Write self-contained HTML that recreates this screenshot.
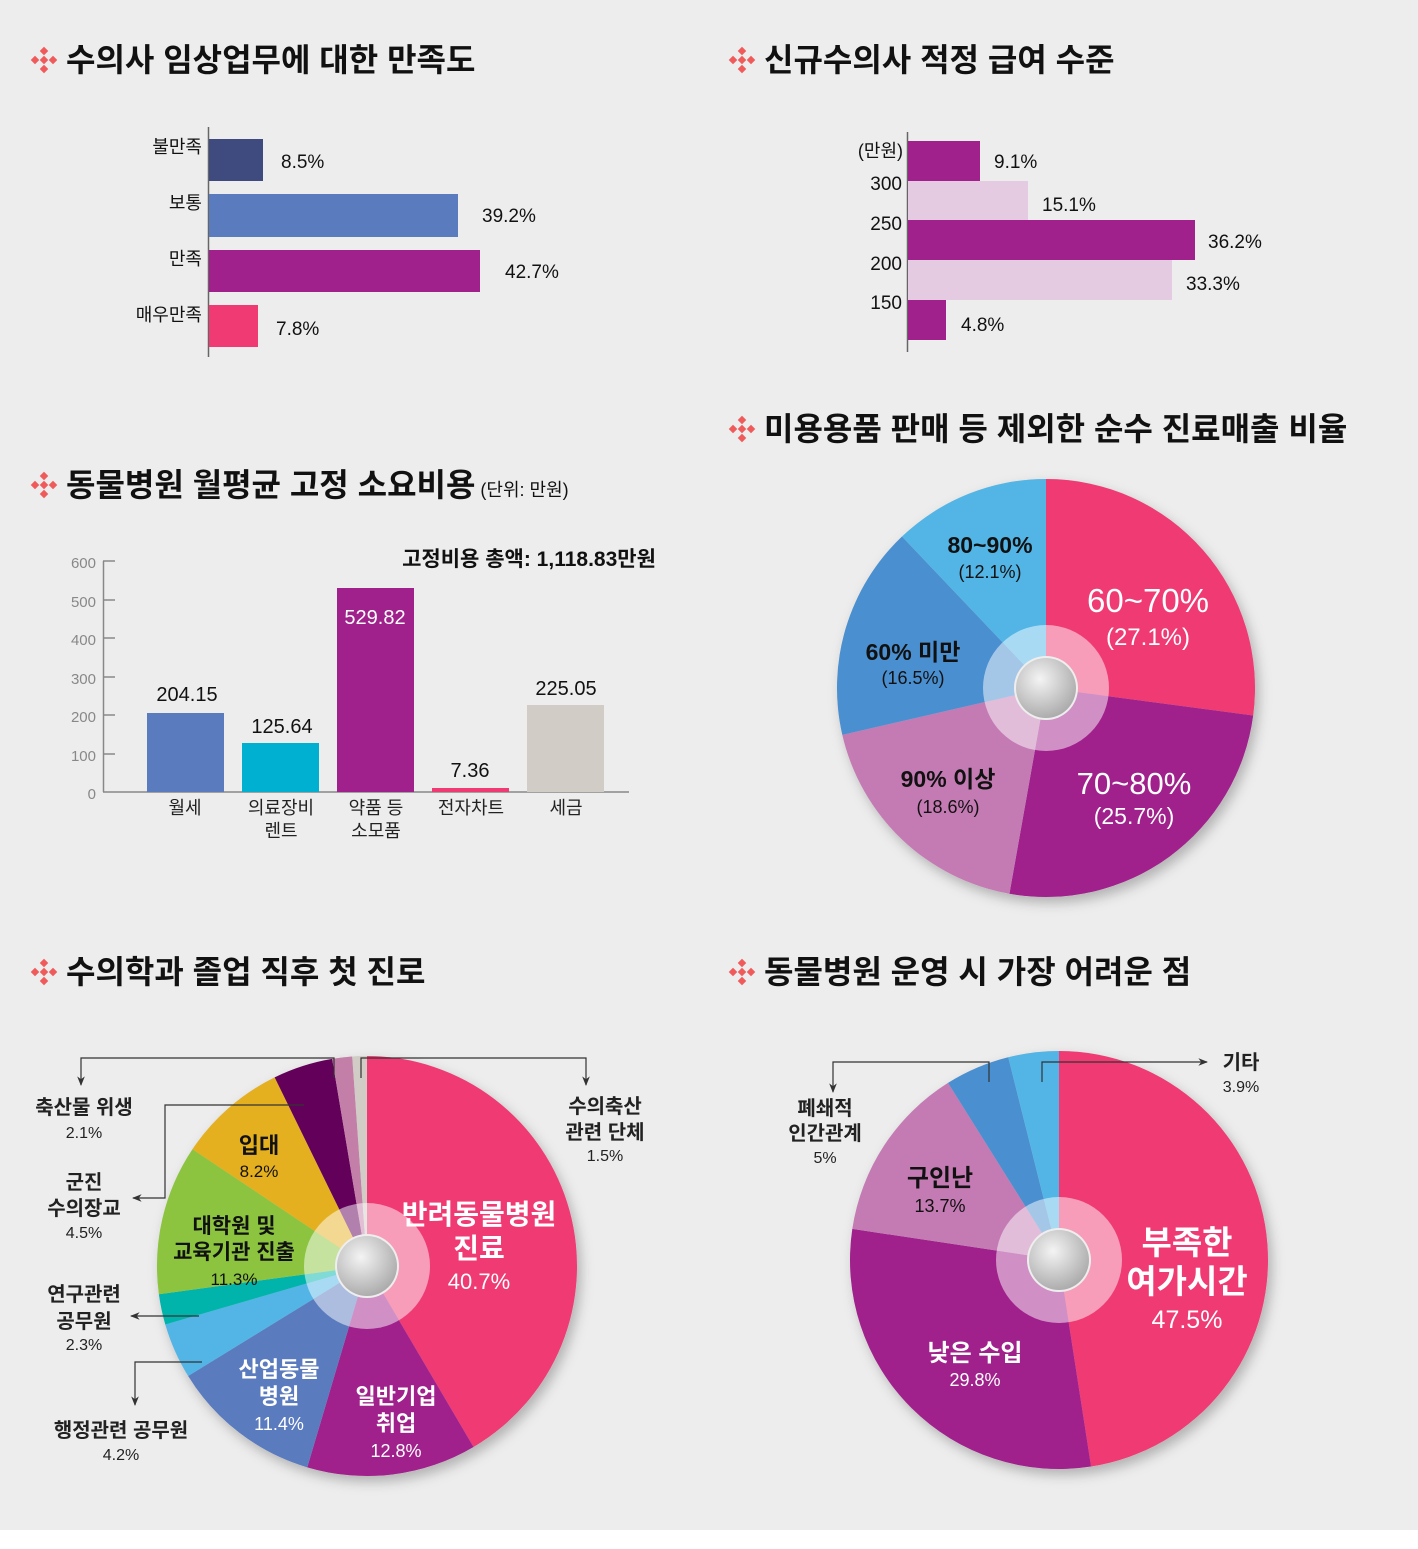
<!DOCTYPE html>
<html><head><meta charset="utf-8">
<style>
html,body{margin:0;padding:0;background:#ededed;}
svg{display:block;font-family:"Liberation Sans","Noto Sans CJK KR",sans-serif;}
.t{font-size:32px;font-weight:bold;fill:#111;}
.b{font-weight:bold;}
</style></head><body>
<svg id="s" width="1418" height="1549" viewBox="0 0 1418 1549" xmlns="http://www.w3.org/2000/svg">
<defs>
<radialGradient id="hole" cx="0.4" cy="0.35" r="0.7"><stop offset="0" stop-color="#f4f4f4"/><stop offset="1" stop-color="#a8a8a8"/></radialGradient>
<filter id="sh" x="-20%" y="-20%" width="140%" height="140%"><feDropShadow dx="4" dy="6" stdDeviation="6" flood-color="#000" flood-opacity="0.25"/></filter>
<g id="icon"><g fill="#f05a5a"><rect x="-3" y="-12" width="6" height="6" transform="rotate(45 0 -9)"/><rect x="-3" y="6" width="6" height="6" transform="rotate(45 0 9)"/><rect x="-12" y="-3" width="6" height="6" transform="rotate(45 -9 0)"/><rect x="6" y="-3" width="6" height="6" transform="rotate(45 9 0)"/><rect x="-3" y="-3" width="6" height="6" transform="rotate(45 0 0)"/></g></g>
<marker id="arr" viewBox="0 0 10 10" refX="9" refY="5" markerWidth="8" markerHeight="8" orient="auto-start-reverse"><path d="M0,1 L10,5 L0,9 L3,5z" fill="#333"/></marker>
</defs>
<rect width="1418" height="1549" fill="#ededed"/>
<rect y="1530" width="1418" height="19" fill="#fff"/>

<!-- titles -->
<use href="#icon" x="44" y="60"/><text class="t" x="66" y="71">수의사 임상업무에 대한 만족도</text>
<use href="#icon" x="742" y="60"/><text class="t" x="764" y="71">신규수의사 적정 급여 수준</text>
<use href="#icon" x="742" y="429"/><text class="t" x="764" y="440">미용용품 판매 등 제외한 순수 진료매출 비율</text>
<use href="#icon" x="44" y="485"/><text class="t" x="66" y="496">동물병원 월평균 고정 소요비용<tspan font-size="18" font-weight="normal"> (단위: 만원)</tspan></text>
<use href="#icon" x="44" y="972"/><text class="t" x="66" y="983">수의학과 졸업 직후 첫 진로</text>
<use href="#icon" x="742" y="972"/><text class="t" x="764" y="983">동물병원 운영 시 가장 어려운 점</text>

<!-- chart 1 -->
<g font-size="18" fill="#111">
<line x1="208.5" y1="127" x2="208.5" y2="357" stroke="#666" stroke-width="1.5"/>
<rect x="209" y="139" width="54" height="42" fill="#3f4a7e"/>
<rect x="209" y="194" width="249" height="43" fill="#5b7bbf"/>
<rect x="209" y="250" width="271" height="42" fill="#a0218c"/>
<rect x="209" y="305" width="49" height="42" fill="#ef3a73"/>
<g text-anchor="end"><text x="202" y="153">불만족</text><text x="202" y="209">보통</text><text x="202" y="265">만족</text><text x="202" y="321">매우만족</text></g>
<text x="281" y="168" font-size="19">8.5%</text><text x="482" y="222" font-size="19">39.2%</text><text x="505" y="278" font-size="19">42.7%</text><text x="276" y="335" font-size="19">7.8%</text>
</g>

<!-- chart 2 -->
<g font-size="19" fill="#111">
<line x1="907.5" y1="132" x2="907.5" y2="352" stroke="#666" stroke-width="1.5"/>
<rect x="908" y="141" width="72" height="40" fill="#a0218c"/>
<rect x="908" y="181" width="120" height="39" fill="#e5cbe1"/>
<rect x="908" y="220" width="287" height="40" fill="#a0218c"/>
<rect x="908" y="260" width="264" height="40" fill="#e5cbe1"/>
<rect x="908" y="300" width="38" height="40" fill="#a0218c"/>
<g text-anchor="end"><text x="903" y="157" font-size="18">(만원)</text><text x="902" y="190">300</text><text x="902" y="230">250</text><text x="902" y="270">200</text><text x="902" y="309">150</text></g>
<text x="994" y="168">9.1%</text><text x="1042" y="211">15.1%</text><text x="1208" y="248">36.2%</text><text x="1186" y="290">33.3%</text><text x="961" y="331">4.8%</text>
</g>

<!-- chart 3 -->
<g font-size="15" fill="#888" text-anchor="end">
<line x1="103.5" y1="561" x2="103.5" y2="792" stroke="#888" stroke-width="1.5"/>
<line x1="103" y1="792" x2="629" y2="792" stroke="#888" stroke-width="1.5"/>
<g stroke="#888" stroke-width="1.5"><line x1="103" y1="561" x2="115" y2="561"/><line x1="103" y1="600" x2="115" y2="600"/><line x1="103" y1="638" x2="115" y2="638"/><line x1="103" y1="677" x2="115" y2="677"/><line x1="103" y1="715" x2="115" y2="715"/><line x1="103" y1="754" x2="115" y2="754"/></g>
<text x="96" y="568">600</text><text x="96" y="607">500</text><text x="96" y="645">400</text><text x="96" y="684">300</text><text x="96" y="722">200</text><text x="96" y="761">100</text><text x="96" y="799">0</text>
</g>
<rect x="147" y="713" width="77" height="79" fill="#5b7bbf"/>
<rect x="242" y="743" width="77" height="49" fill="#00b0d0"/>
<rect x="337" y="588" width="77" height="204" fill="#a0218c"/>
<rect x="432" y="788" width="77" height="4" fill="#ef3a73"/>
<rect x="527" y="705" width="77" height="87" fill="#d1cdc6"/>
<g font-size="20" fill="#111" text-anchor="middle">
<text x="187" y="701">204.15</text><text x="282" y="733">125.64</text><text x="375" y="624" fill="#fff">529.82</text><text x="470" y="777">7.36</text><text x="566" y="695">225.05</text>
<text x="529" y="566" class="b" font-size="21">고정비용 총액: 1,118.83만원</text>
</g>
<g font-size="18" fill="#222" text-anchor="middle">
<text x="185" y="814">월세</text><text x="281" y="814">의료장비</text><text x="281" y="837">렌트</text><text x="376" y="814">약품 등</text><text x="376" y="837">소모품</text><text x="471" y="814">전자차트</text><text x="566" y="814">세금</text>
</g>

<g id="pies"></g>

<!-- pie 1 labels -->
<g text-anchor="middle">
<text x="990" y="553" font-size="23" class="b" fill="#111">80~90%</text><text x="990" y="578" font-size="18" fill="#111">(12.1%)</text>
<text x="913" y="660" font-size="23" class="b" fill="#111">60% 미만</text><text x="913" y="684" font-size="18" fill="#111">(16.5%)</text>
<text x="948" y="787" font-size="23" class="b" fill="#111">90% 이상</text><text x="948" y="813" font-size="18" fill="#111">(18.6%)</text>
<text x="1148" y="612" font-size="33" fill="#fff">60~70%</text><text x="1148" y="645" font-size="24" fill="#fff">(27.1%)</text>
<text x="1134" y="794" font-size="31" fill="#fff">70~80%</text><text x="1134" y="824" font-size="23" fill="#fff">(25.7%)</text>
</g>

<!-- pie 2 labels -->
<g text-anchor="middle">
<text x="479" y="1224" font-size="28" fill="#fff" class="b">반려동물병원</text><text x="479" y="1258" font-size="28" fill="#fff" class="b">진료</text><text x="479" y="1289" font-size="22" fill="#fff">40.7%</text>
<text x="396" y="1404" font-size="22" fill="#fff" class="b">일반기업</text><text x="396" y="1431" font-size="22" fill="#fff" class="b">취업</text><text x="396" y="1457" font-size="18" fill="#fff">12.8%</text>
<text x="279" y="1377" font-size="22" fill="#fff" class="b">산업동물</text><text x="279" y="1404" font-size="22" fill="#fff" class="b">병원</text><text x="279" y="1430" font-size="18" fill="#fff">11.4%</text>
<text x="234" y="1233" font-size="21" fill="#111" class="b">대학원 및</text><text x="234" y="1259" font-size="21" fill="#111" class="b">교육기관 진출</text><text x="234" y="1285" font-size="17" fill="#111">11.3%</text>
<text x="259" y="1153" font-size="22" fill="#111" class="b">입대</text><text x="259" y="1177" font-size="17" fill="#111">8.2%</text>
<g fill="#222" font-size="20" class="b">
<text x="84" y="1114">축산물 위생</text><text x="605" y="1113">수의축산</text><text x="605" y="1139">관련 단체</text>
<text x="84" y="1189">군진</text><text x="84" y="1215">수의장교</text>
<text x="84" y="1301">연구관련</text><text x="84" y="1328">공무원</text>
<text x="121" y="1437">행정관련 공무원</text>
</g>
<g fill="#222" font-size="16">
<text x="84" y="1138">2.1%</text><text x="605" y="1161">1.5%</text><text x="84" y="1238">4.5%</text><text x="84" y="1350">2.3%</text><text x="121" y="1460">4.2%</text>
</g>
</g>
<g stroke="#333" stroke-width="1.2" fill="none">
<polyline points="334,1078 334,1058 81,1058 81,1085" marker-end="url(#arr)"/>
<polyline points="361,1078 361,1058 586,1058 586,1085" marker-end="url(#arr)"/>
<polyline points="304,1105 165,1105 165,1198 133,1198" marker-end="url(#arr)"/>
<polyline points="199,1316 131,1316" marker-end="url(#arr)"/>
<polyline points="202,1362 135,1362 135,1405" marker-end="url(#arr)"/>
<polyline points="989,1082 989,1062 833,1062 833,1092" marker-end="url(#arr)"/>
<polyline points="1042,1082 1042,1062 1207,1062" marker-end="url(#arr)"/>
</g>

<!-- pie 3 labels -->
<g text-anchor="middle">
<text x="1187" y="1254" font-size="33" fill="#fff" class="b">부족한</text><text x="1187" y="1293" font-size="33" fill="#fff" class="b">여가시간</text><text x="1187" y="1328" font-size="25" fill="#fff">47.5%</text>
<text x="975" y="1361" font-size="24" fill="#fff" class="b">낮은 수입</text><text x="975" y="1386" font-size="18" fill="#fff">29.8%</text>
<text x="940" y="1186" font-size="24" fill="#111" class="b">구인난</text><text x="940" y="1212" font-size="18" fill="#111">13.7%</text>
<g fill="#222"><text x="825" y="1115" font-size="20" class="b">폐쇄적</text><text x="825" y="1140" font-size="20" class="b">인간관계</text><text x="825" y="1163" font-size="16">5%</text>
<text x="1241" y="1069" font-size="20" class="b">기타</text><text x="1241" y="1092" font-size="16">3.9%</text></g>
</g>
</svg>
<script>
function pt(cx,cy,r,a){a=(a-90)*Math.PI/180;return [cx+r*Math.cos(a),cy+r*Math.sin(a)];}
function arc(cx,cy,r,a0,a1){var p0=pt(cx,cy,r,a0),p1=pt(cx,cy,r,a1);var l=(a1-a0)>180?1:0;
return "M"+cx+","+cy+" L"+p0[0]+","+p0[1]+" A"+r+","+r+" 0 "+l+" 1 "+p1[0]+","+p1[1]+" Z";}
function pie(cx,cy,r,data){var g='<circle cx="'+cx+'" cy="'+cy+'" r="'+r+'" fill="#ccc" filter="url(#sh)"/>';
var tot=data.reduce(function(s,d){return s+d[0]},0);var a=0;var inner='';
data.forEach(function(d){var a1=a+d[0]/tot*360;g+='<path d="'+arc(cx,cy,r,a,a1)+'" fill="'+d[1]+'"/>';inner+='<path d="'+arc(cx,cy,63,a,a1)+'" fill="'+d[1]+'"/>';a=a1;});
g+=inner+'<circle cx="'+cx+'" cy="'+cy+'" r="63" fill="#fff" opacity="0.5"/>';
g+='<circle cx="'+cx+'" cy="'+cy+'" r="32" fill="#eee"/><circle cx="'+cx+'" cy="'+cy+'" r="30" fill="url(#hole)"/>';
return g;}
var h='';
h+=pie(1046,688,209,[[27.1,'#ef3a73'],[25.7,'#a0218c'],[18.6,'#c47bb4'],[16.5,'#4a8fcf'],[12.1,'#52b5e6']]);
h+=pie(367,1266,210,[[40.7,'#ef3a73'],[12.8,'#a0218c'],[11.4,'#5b7bbf'],[4.2,'#52b5e6'],[2.3,'#00b4ac'],[11.3,'#8cc43f'],[8.2,'#e5b020'],[4.5,'#62005a'],[1.5,'#c47fa8'],[1.1,'#d1cdc6']]);
h+=pie(1059,1260,209,[[47.5,'#ef3a73'],[29.8,'#a0218c'],[13.7,'#c47bb4'],[5,'#4a8fcf'],[3.9,'#52b5e6']]);
document.getElementById('pies').innerHTML=h;
</script>
</body></html>
